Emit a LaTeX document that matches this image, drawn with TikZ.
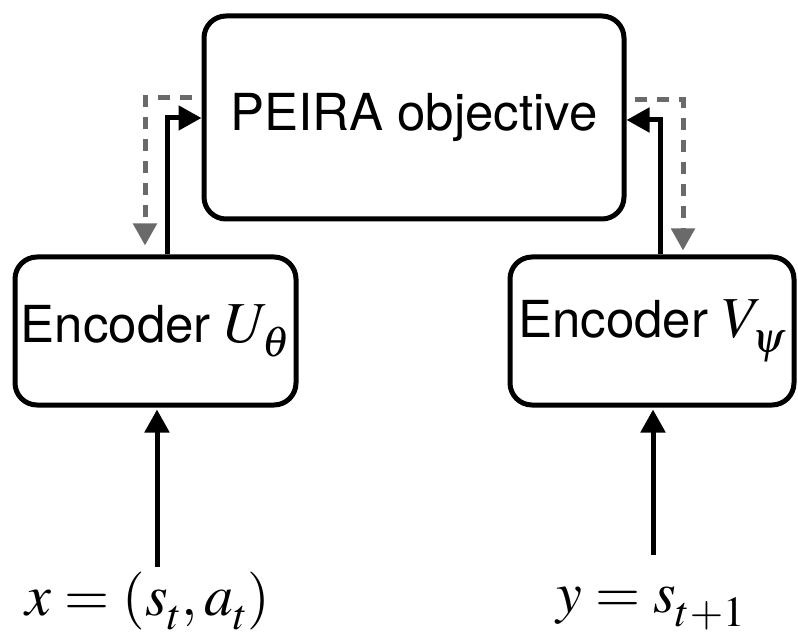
\documentclass[tikz,border=0pt]{standalone}
\usepackage{mathptmx}
\usepackage{fontspec}
\setsansfont{TeX Gyre Heros}
\usetikzlibrary{arrows.meta}
\definecolor{backgray}{HTML}{6A6A6A}
% subscript set a little deeper than TeX's default
\newcommand\dsub[1]{_{\raisebox{-0.1em}{$\scriptstyle #1$}}}
\begin{document}
\begin{tikzpicture}[x=1pt,y=-1pt,
  box/.style={draw, line width=5pt, rounded corners=22pt, inner sep=0pt,
    font=\sffamily\fontsize{51}{60}\selectfont, align=center},
  fwd/.style={line width=5pt, -{Triangle[length=23pt,width=24pt]}},
  back/.style={line width=5pt, draw=backgray, dash pattern=on 12pt off 10pt,
    -{Triangle[length=22pt,width=23pt]}},
  lbl/.style={inner sep=0pt, anchor=base, font=\fontsize{58}{64}\selectfont}]
\useasboundingbox (0,0) rectangle (798,639);

% boxes
\node[box, minimum width=420pt, minimum height=203pt] (top) at (414,117.5) {PEIRA objective};
\node[box, minimum width=281pt, minimum height=148pt] (encU) at (155.5,331)
  {Encoder {\fontsize{58}{64}\selectfont$U\dsub{\theta}$}};
\node[box, minimum width=284pt, minimum height=148pt] (encV) at (652,331)
  {Encoder {\fontsize{58}{64}\selectfont$V\dsub{\psi}$}};

% inputs
\node[lbl] (xl) at (148,615) {$x = (s\dsub{t}, a\dsub{t})$};
\node[lbl] (yl) at (651,612) {$y = s\dsub{t+1}$};

% routing points
\coordinate (uL) at (167,118);
\coordinate (uR) at (660,120);
\coordinate (dL) at (192,98);
\coordinate (dLc) at (145,98);
\coordinate (dR) at (635,100);
\coordinate (dRc) at (683,100);
\coordinate (inL) at (157,567);
\coordinate (inR) at (653,555);

% forward connectors
\draw[fwd] (encU.north -| uL) |- (top.west |- uL);
\draw[fwd] (encV.north -| uR) |- (top.east |- uR);
\draw[fwd, shorten >=2pt] (inL) -- (encU.south -| inL);
\draw[fwd, shorten >=2pt] (inR) -- (encV.south -| inR);

% feedback connectors
\draw[back, shorten >=9pt] (dL) -| (encU.north -| dLc);
\draw[back, shorten >=4pt] (dR) -| (encV.north -| dRc);
\end{tikzpicture}
\end{document}
